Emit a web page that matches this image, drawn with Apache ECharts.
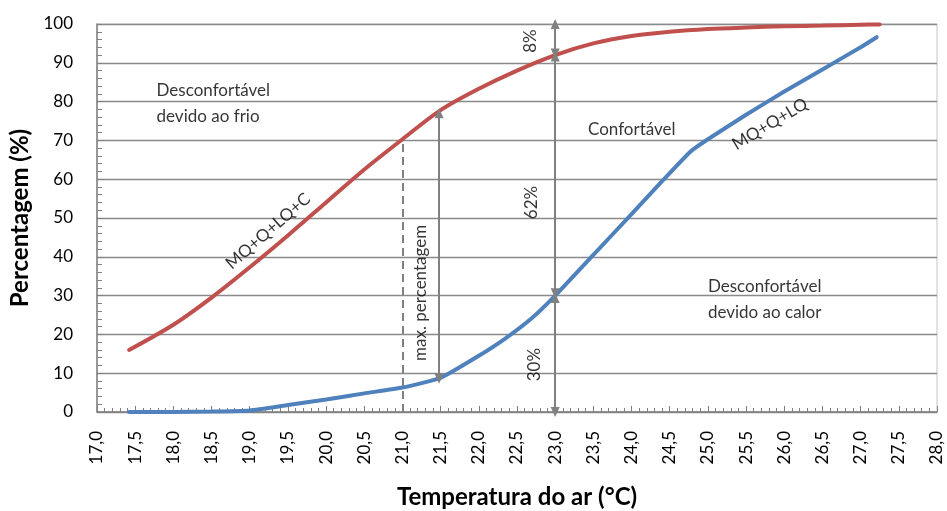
<!DOCTYPE html>
<html>
<head>
<meta charset="utf-8">
<script src="https://cdn.jsdelivr.net/npm/echarts@6/dist/echarts.min.js"></script>
<style>
  html, body { margin: 0; padding: 0; background: #fff; }
  #chart { width: 947px; height: 511px; }
</style>
</head>
<body>
<div id="chart"></div>
<script>
// curva vermelha (MQ+Q+LQ+C)
const redTemp = [17.42, 18.0, 18.5, 19.0, 19.5, 20.0, 20.5, 21.0, 21.5, 22.0, 22.5, 23.0, 23.5, 24.0, 24.5, 25.0, 25.5, 26.0, 26.5, 27.0, 27.25];
const redPerc = [16.0, 22.5, 29.5, 37.3, 45.5, 54.0, 62.5, 70.3, 77.8, 83.3, 88.0, 92.0, 95.0, 96.9, 98.0, 98.7, 99.1, 99.4, 99.6, 99.8, 99.9];

// curva azul (MQ+Q+LQ)
const blueTemp = [17.42, 18.0, 18.5, 19.0, 19.5, 20.0, 20.5, 21.0, 21.5, 22.0, 22.35, 22.7, 23.0, 23.5, 24.0, 24.4, 24.77, 25.0, 25.5, 26.0, 26.5, 27.0, 27.21];
const bluePerc = [0.0, 0.0, 0.1, 0.4, 1.8, 3.2, 4.8, 6.3, 8.8, 14.5, 19.0, 24.3, 30.0, 40.5, 51.0, 59.5, 67.1, 70.3, 76.6, 82.6, 88.3, 94.0, 96.6];

// eixo x: 17,0 ... 28,0
const xMin = 17, xMax = 28, xStep = 0.5;

// setas de anotação [temperatura, de, até]
const arrows = [
    [21.48, 8.6, 77.0],
    [23.0, 92.4, 100],
    [23.0, 30.6, 91.6],
    [23.0, 0, 29.4]
];
// linha tracejada em 21,0
const dashedLine = [21.0, 0, 70.3];

// textos [texto, temperatura, percentagem, rotação, alinhamento]
const notes = [
    ['Desconfortável\ndevido ao frio', 17.78, 79.6, 0, 'left'],
    ['Confortável', 23.43, 72.7, 0, 'left'],
    ['Desconfortável\ndevido ao calor', 25.0, 29.0, 0, 'left'],
    ['MQ+Q+LQ+C', 19.24, 46.6, 41, 'center'],
    ['MQ+Q+LQ', 25.81, 74.2, 31, 'center'],
    ['max. percentagem', 21.24, 30.7, 90, 'center'],
    ['8%', 22.68, 95.6, 90, 'center'],
    ['62%', 22.69, 54.0, 90, 'center'],
    ['30%', 22.73, 12.2, 90, 'center']
];

const font = 'Lato, "Open Sans", sans-serif';
const gray = '#808080';

let chart = echarts.init(document.getElementById('chart'));

function pairs(xs, ys) {
    return xs.map((x, i) => [x, ys[i]]);
}

option = {
    animation: false,
    textStyle: { fontFamily: font },
    grid: {
        left: 97, right: 10, top: 24, bottom: 99,
        outerBoundsMode: 'none',
        containLabel: false,
        show: true, borderColor: '#c4c4c4', borderWidth: 1
    },
    xAxis: {
        type: 'value',
        min: xMin, max: xMax, interval: xStep,
        name: 'Temperatura do ar (°C)',
        nameLocation: 'middle',
        nameGap: 73,
        nameTextStyle: { fontSize: 24, fontWeight: 'bold', color: '#000', fontFamily: font },
        axisLine: { lineStyle: { color: gray, width: 1.5 } },
        axisTick: { inside: true, length: 6, lineStyle: { color: gray } },
        minorTick: { show: true, splitNumber: 5, length: 4, lineStyle: { color: gray } },
        splitLine: { show: false },
        axisLabel: {
            rotate: 90, margin: 19, fontSize: 17, color: '#000',
            formatter: v => v.toFixed(1).replace('.', ',')
        }
    },
    yAxis: {
        type: 'value',
        min: 0, max: 100, interval: 10,
        name: 'Percentagem (%)',
        nameLocation: 'middle',
        nameGap: 62,
        nameTextStyle: { fontSize: 24, fontWeight: 'bold', color: '#000', fontFamily: font },
        axisLine: { show: true, lineStyle: { color: gray, width: 1.5 } },
        axisTick: { show: true, inside: true, length: 6, lineStyle: { color: gray } },
        minorTick: { show: true, splitNumber: 5, length: 5, lineStyle: { color: gray } },
        splitLine: { lineStyle: { color: '#8a8a8a', width: 1.3 } },
        axisLabel: { margin: 24, fontSize: 17, color: '#000' }
    },
    series: [
        {
            name: 'MQ+Q+LQ+C',
            type: 'line',
            data: pairs(redTemp, redPerc),
            showSymbol: false,
            smooth: 0.3,
            lineStyle: { color: '#C0504D', width: 4, cap: 'round' },
            z: 3
        },
        {
            name: 'MQ+Q+LQ',
            type: 'line',
            data: pairs(blueTemp, bluePerc),
            showSymbol: false,
            smooth: 0.15,
            lineStyle: { color: '#4F81BD', width: 4, cap: 'round' },
            z: 3,
            markLine: {
                silent: true,
                animation: false,
                label: { show: false },
                emphasis: { disabled: true },
                data: arrows.map(a => [
                    { coord: [a[0], a[1]], symbol: 'triangle', symbolSize: [9, 10] },
                    { coord: [a[0], a[2]], symbol: 'triangle', symbolSize: [9, 10] }
                ]).concat([[
                    { coord: [dashedLine[0], dashedLine[1]], symbol: 'none',
                      lineStyle: { type: [8, 5], width: 2, color: gray } },
                    { coord: [dashedLine[0], dashedLine[2]], symbol: 'none' }
                ]]),
                lineStyle: { color: gray, width: 2, type: 'solid' }
            }
        },
        {
            type: 'scatter',
            symbolSize: 0,
            silent: true,
            z: 5,
            data: notes.map(n => ({
                value: [n[1], n[2]],
                label: {
                    show: true,
                    formatter: n[0],
                    position: 'inside',
                    rotate: n[3],
                    align: n[4],
                    verticalAlign: 'middle',
                    fontSize: 17,
                    lineHeight: 26,
                    color: '#000',
                    fontFamily: font
                }
            }))
        }
    ]
};
chart.setOption(option);
</script>
</body>
</html>
